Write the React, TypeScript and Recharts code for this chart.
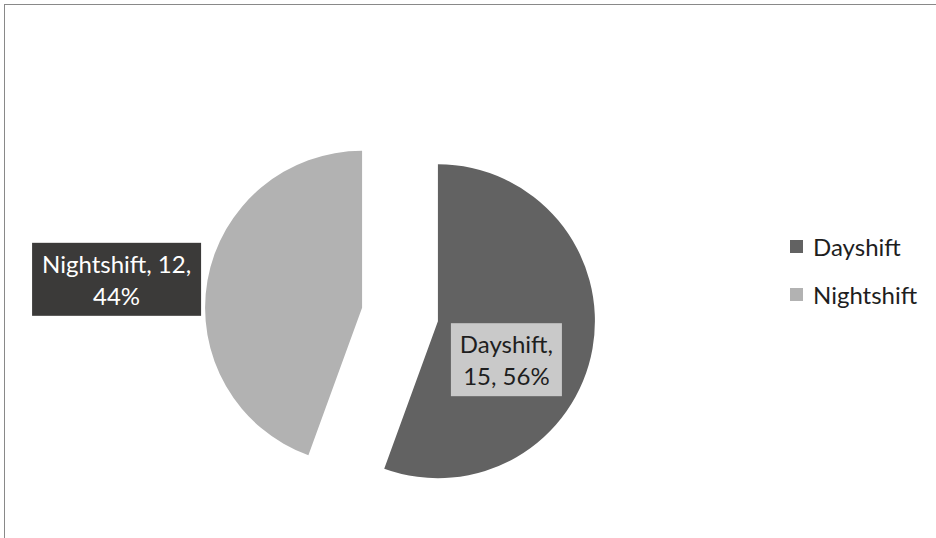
import { PieChart, Pie, Cell, Sector, Legend } from "recharts";

const shifts = ["Dayshift", "Nightshift"];
const counts = [15, 12];
const shades = ["#626262", "#b2b2b2"];

const data = shifts.map((name, i) => ({ name, value: counts[i] }));
const total = counts.reduce((a, b) => a + b, 0);

const RAD = Math.PI / 180;
const EXPLODE = 38.5;
const FONT = "Lato, 'Open Sans', sans-serif";

// exploded centre of a slice, pushed out along its mid angle
function shiftCentre(cx: number, cy: number, midAngle: number) {
  return {
    x: cx + EXPLODE * Math.cos(-midAngle * RAD),
    y: cy + EXPLODE * Math.sin(-midAngle * RAD),
  };
}

function ExplodedSector(props: any) {
  const c = shiftCentre(props.cx, props.cy, props.midAngle);
  return <Sector {...props} cx={c.x} cy={c.y} stroke="none" />;
}

// label boxes: offset from the exploded centre, size, colours
const labelBoxes = [
  { dx: 68.5, dy: 38.5, w: 111, fill: "#c9c9c9", text: "#1e1e1e" },
  { dx: -245.5, dy: -28.5, w: 169, fill: "#3b3a39", text: "#ffffff" },
];

function renderLabel(props: any) {
  const { cx, cy, midAngle, index, name, value } = props;
  const c = shiftCentre(cx, cy, midAngle);
  const box = labelBoxes[index];
  const pct = Math.round((value / total) * 100);
  const lines = index === 0
    ? [`${name},`, `${value}, ${pct}%`]
    : [`${name}, ${value},`, `${pct}%`];
  const mx = c.x + box.dx;
  const my = c.y + box.dy;
  const h = 73;
  return (
    <g>
      <rect x={mx - box.w / 2} y={my - h / 2} width={box.w} height={h} fill={box.fill} />
      {lines.map((t, i) => (
        <text
          key={i}
          x={mx}
          y={my - h / 2 + 30 + i * 32}
          textAnchor="middle"
          fill={box.text}
          fontSize={24}
          fontFamily={FONT}
        >
          {t}
        </text>
      ))}
    </g>
  );
}

function LegendBox({ payload }: any) {
  return (
    <div style={{ fontFamily: FONT, fontSize: 24, color: "#1e1e1e" }}>
      {(payload ?? []).map((p: any, i: number) => (
        <div key={i} style={{ display: "flex", alignItems: "center", height: 48 }}>
          <span style={{ width: 13, height: 13, background: p.color, marginRight: 10, display: "inline-block" }} />
          <span>{p.value}</span>
        </div>
      ))}
    </div>
  );
}

export default function App() {
  return (
    <div style={{ position: "absolute", left: 0, top: 0, width: 936, height: 538, overflow: "hidden", background: "#fff" }}>
      <div
        style={{
          position: "absolute",
          left: 4,
          top: 4,
          width: 940,
          height: 540,
          borderTop: "1px solid #898989",
          borderLeft: "1px solid #898989",
        }}
      />
      <PieChart width={936} height={538} style={{ position: "absolute", left: 0, top: 0 }}>
        <Pie
          data={data}
          dataKey="value"
          nameKey="name"
          cx={395}
          cy={309.5}
          outerRadius={157}
          startAngle={90}
          endAngle={-270}
          isAnimationActive={false}
          labelLine={false}
          label={renderLabel}
          shape={ExplodedSector}
          activeShape={ExplodedSector}
          inactiveShape={ExplodedSector}
        >
          {data.map((d, i) => (
            <Cell key={d.name} fill={shades[i]} />
          ))}
        </Pie>
        <Legend
          layout="vertical"
          content={<LegendBox />}
          wrapperStyle={{ left: 790, top: 222, width: 146 }}
        />
      </PieChart>
    </div>
  );
}
